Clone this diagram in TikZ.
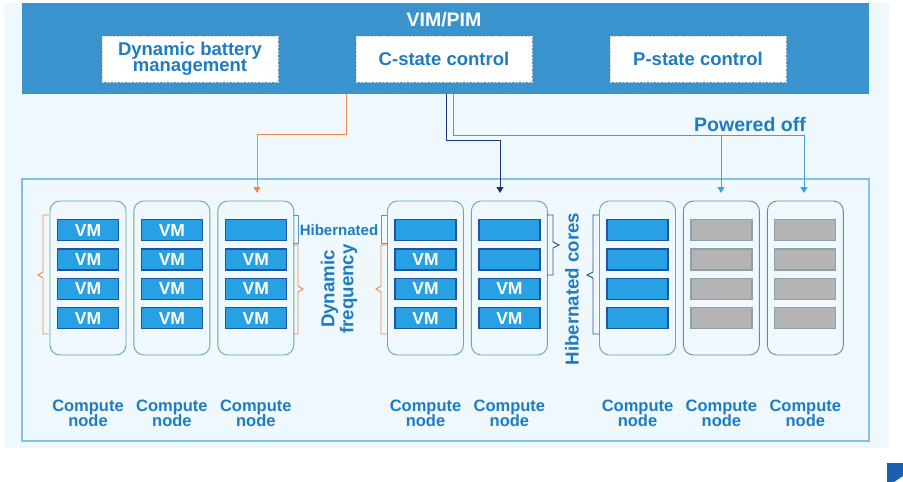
\documentclass[tikz,border=0pt]{standalone}
\usepackage{fontspec}
\setmainfont{Liberation Sans}
\usetikzlibrary{arrows.meta,positioning,calc}

\definecolor{pagebg}{RGB}{238,248,253}
\definecolor{hdrblue}{RGB}{59,147,205}
\definecolor{txtblue}{RGB}{30,124,194}
\definecolor{poolline}{RGB}{130,194,230}
\definecolor{orng}{RGB}{240,136,76}
\definecolor{navyline}{RGB}{30,52,122}
\definecolor{skyline}{RGB}{60,162,216}
\definecolor{nodegreen}{RGB}{104,172,146}
\definecolor{nodegray}{RGB}{122,136,140}
\definecolor{vmfill}{RGB}{39,161,228}
\definecolor{vmedge}{RGB}{32,84,160}
\definecolor{offfill}{RGB}{180,180,180}
\definecolor{offedge}{RGB}{140,160,168}
\definecolor{hibline}{RGB}{92,150,196}
\definecolor{bracenavy}{RGB}{52,82,142}
\definecolor{cornerblue}{RGB}{26,96,176}

\newcommand{\tightskip}{\lineskiplimit=-20pt\relax}

\begin{document}
\begin{tikzpicture}[x=1pt, y=-1pt,
  hdr/.style={fill=hdrblue, minimum width=847pt, minimum height=91pt, inner sep=0pt},
  fn/.style={draw=gray!35, dash pattern=on 2pt off 1.5pt, line width=0.6pt, fill=white, minimum width=176pt, minimum height=46pt, inner sep=0pt, align=center, text=txtblue, font=\fontsize{18.5}{15.5}\selectfont\bfseries\tightskip},
  pool/.style={draw=poolline, line width=1.2pt, minimum width=847pt, minimum height=262pt, inner sep=0pt},
  cn/.style={draw=nodegreen, line width=0.9pt, rounded corners=10pt, minimum width=76pt, minimum height=154pt, inner sep=0pt},
  cnoff/.style={cn, draw=nodegray},
  vm/.style={draw=vmedge, fill=vmfill, line width=1.2pt, minimum width=61pt, minimum height=21pt, inner sep=0pt, text=white, font=\fontsize{17.5}{17.5}\selectfont\bfseries},
  vmoff/.style={vm, draw=offedge, fill=offfill},
  cnlbl/.style={align=center, inner sep=0pt, text=txtblue, font=\fontsize{16.5}{14.5}\selectfont\bfseries\tightskip},
  vtxt/.style={rotate=90, align=center, inner sep=0pt, text=txtblue, font=\fontsize{18.7}{19}\selectfont\bfseries\tightskip},
  brc/.style={draw=#1, line width=0.9pt},
  flow/.style={-{Triangle[width=7pt,length=6pt]}, line width=0.9pt}
]
\useasboundingbox (0,0) rectangle (903,482);
\fill[pagebg] (4,3) rectangle (889,448);

%--- VIM/PIM bar ---
\node[hdr] (vim) at (445.5,48.5) {};
\node[text=white, font=\fontsize{19.5}{19.5}\selectfont\bfseries] (vimlbl) at (444,20) {VIM/PIM};
\node[fn] (dbm) at (190,59) {Dynamic battery\\management};
\node[fn] (cst) at (444,59) {C-state control};
\node[fn] (pst) at (698,59) {P-state control};

%--- resource pool ---
\node[pool] (pool) at (445.5,310) {};

%--- compute nodes ---
\node[cn] (cn1) at (88,278) {};
\node[cn, right=7pt of cn1] (cn2) {};
\node[cn, right=7pt of cn2] (cn3) {};
\node[cn] (cn4) at (425.5,278) {};
\node[cn, right=7pt of cn4] (cn5) {};
\node[cn] (cn6) at (637.5,278) {};
\node[cnoff, right=7pt of cn6] (cn7) {};
\node[cnoff, right=7pt of cn7] (cn8) {};

% VM slots, the first \k rows of a node are empty
\foreach \n/\k in {1/0, 2/0, 3/1, 4/1, 5/2, 6/4}
  \foreach \r in {0,...,3} {
    \ifnum\r<\k
      \node[vm] (vm\n-\r) at ($(cn\n.north)+(0,29.5+29.4*\r)$) {};
    \else
      \node[vm] (vm\n-\r) at ($(cn\n.north)+(0,29.5+29.4*\r)$) {VM};
    \fi
  }
\foreach \n in {7,8}
  \foreach \r in {0,...,3}
    \node[vmoff] (vm\n-\r) at ($(cn\n.north)+(0,29.5+29.4*\r)$) {};

\foreach \n in {1,...,8}
  \node[cnlbl] (lbl\n) at ($(cn\n.south)+(0,58)$) {Compute\\node};

%--- control flows ---
\coordinate (tap1) at (346,94);
\coordinate (tap2) at (446,94);
\coordinate (tap3) at (453,94);
\coordinate (in3) at (257,193);
\coordinate (in5) at (500,193);
\coordinate (split7) at (721,135);
\coordinate (in7) at (721,193);
\coordinate (in8) at (804,193);
\draw[flow, orng] (tap1) -- ++(0,40) -| (in3);
\draw[flow, navyline] (tap2) -- ++(0,46) -| (in5);
\draw[flow, skyline] (tap3) -- ++(0,41) -| (in8);
\draw[flow, skyline] (split7) -- (in7);
\node[text=txtblue, font=\fontsize{19.5}{19.5}\selectfont\bfseries] (poff) at (750,125) {Powered off};

%--- braces ---
\draw[brc=orng] (49,215) -- (43,215) -- (43,272) -- (38,275) -- (43,278) -- (43,334) -- (49,334);
\draw[brc=hibline] (293,215) -- (298,215) -- (298,243) -- (293,243);
\draw[brc=orng] (293,245) -- (298,245) -- (298,286) -- (303,289) -- (298,292) -- (298,334) -- (293,334);
\draw[brc=hibline] (387,215) -- (381,215) -- (381,243) -- (387,243);
\draw[brc=orng] (387,245) -- (381,245) -- (381,286) -- (376,289) -- (381,292) -- (381,334) -- (387,334);
\draw[brc=bracenavy] (547,215) -- (553,215) -- (553,242) -- (559,245) -- (553,248) -- (553,275) -- (547,275);
\draw[brc=bracenavy] (599,215) -- (593,215) -- (593,272) -- (587,275) -- (593,278) -- (593,334) -- (599,334);

\node[text=txtblue, inner sep=0pt, font=\fontsize{15}{15}\selectfont\bfseries] (hib) at (339,230) {Hibernated};
\node[vtxt] (dynfreq) at (339,289) {Dynamic\\frequency};
\node[vtxt] (hibcores) at (572,289) {Hibernated cores};

% corner mark
\fill[cornerblue] (887,463) -- (903,463) -- (903,476) -- (894,482) -- (887,482) -- cycle;
\end{tikzpicture}
\end{document}
